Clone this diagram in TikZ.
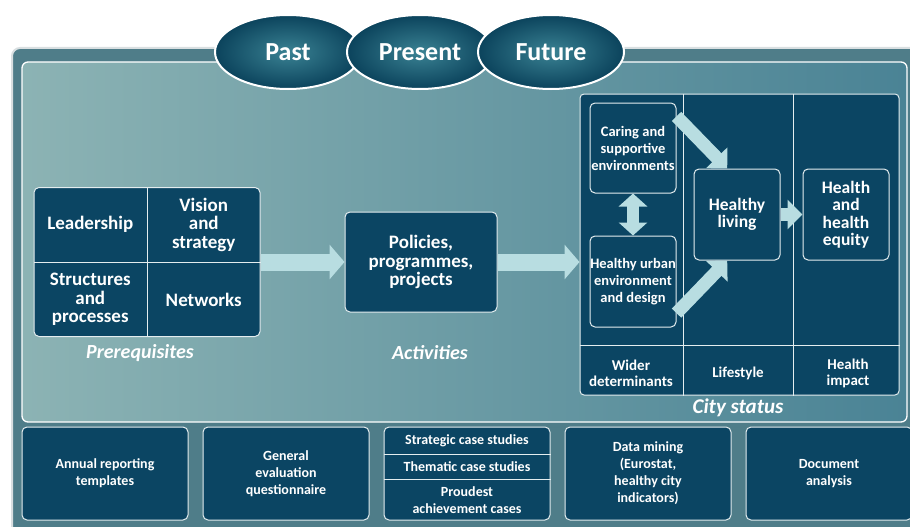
\documentclass[tikz,border=0pt]{standalone}
\usepackage{fontspec}
\setmainfont{Carlito}
\usetikzlibrary{arrows.meta,positioning,shapes.geometric,calc}
\definecolor{Navy}{HTML}{0B4563}
\definecolor{Frame}{HTML}{4F7D89}
\definecolor{PanelLight}{HTML}{8CB3B4}
\definecolor{PanelMid}{HTML}{6A9DA6}
\definecolor{PanelDark}{HTML}{4A8395}
\definecolor{Pale}{HTML}{B8DDE1}
\definecolor{OvalDark}{HTML}{0B435C}
\definecolor{OvalLight}{HTML}{3A8293}
\definecolor{Rim}{HTML}{E4EDEF}
\definecolor{Halo}{HTML}{D9DFE1}
\tikzset{
  blk/.style={rectangle,rounded corners=5pt,draw=Rim,line width=1pt,fill=Navy,text=white,font=\bfseries,align=center,inner sep=0pt},
  cell/.style={text=white,font=\fontsize{19}{18.5}\selectfont\bfseries,align=center,inner sep=0pt},
  sm/.style={font=\fontsize{14.5}{17}\selectfont\bfseries},
  md/.style={font=\fontsize{17.5}{17.5}\selectfont\bfseries},
  foot/.style={text=white,font=\fontsize{15}{16}\selectfont\bfseries,align=center,inner sep=0pt},
  lowbox/.style={blk,minimum width=166pt,minimum height=93pt,font=\fontsize{14}{17}\selectfont\bfseries},
  oval/.style={ellipse,draw=white,line width=2pt,inner color=OvalLight,outer color=OvalDark,minimum width=146pt,minimum height=74pt,text=white,font=\fontsize{26}{28}\selectfont\bfseries},
  ital/.style={font=\fontsize{20}{22}\selectfont\bfseries\itshape,text=white},
  rule/.style={draw=Rim,line width=1pt},
  arr/.style={draw=Pale,line width=17pt,-{Triangle[length=15pt,width=34pt]}},
  arrs/.style={draw=Pale,line width=13pt,-{Triangle[length=15pt,width=29pt]}},
  dbl/.style={draw=Pale,line width=12pt,{Triangle[length=13pt,width=28pt]}-{Triangle[length=13pt,width=28pt]}},
}
\begin{document}
\begin{tikzpicture}[x=1pt,y=-1pt]
\useasboundingbox (0,0) rectangle (910,527);
% Frame and shaded inner panel.
\filldraw[fill=Frame,draw=Halo,line width=2pt,rounded corners=8pt] (12,48) rectangle (925,540);
\shadedraw[left color=PanelLight,middle color=PanelMid,right color=PanelDark,draw=white,line width=1.3pt,rounded corners=6pt] (22,62) rectangle (907,422);
\node[oval] (past) at (288,52) {Past};
\node[oval] (pres) at (420,52) {Present};
\node[oval] (fut) at (551,52) {Future};
% Prerequisites grid.
\node[blk,minimum width=226pt,minimum height=149pt] (pre) at (147,262) {};
\draw[rule] (pre.north) -- (pre.south); \draw[rule] (pre.west) -- (pre.east);
\node[cell] (lead) at ($(pre.center)!.5!(pre.north west)$) {Leadership};
\node[cell] (vis) at ($(pre.center)!.5!(pre.north east)$) {Vision\\and\\strategy};
\node[cell] (str) at ($(pre.center)!.5!(pre.south west)$) {Structures\\and\\processes};
\node[cell] (net) at ($(pre.center)!.5!(pre.south east)$) {Networks};
\node[ital] (prel) at (140,353) {Prerequisites};
\node[blk,minimum width=152pt,minimum height=100pt,font=\fontsize{19}{18.5}\selectfont\bfseries] (pol) at (421,262) {Policies,\\programmes,\\projects};
\node[ital] (actl) at (430,353) {Activities};
% City status panel, three columns over a label row.
\node[rectangle,rounded corners=4pt,draw=Rim,line width=1pt,fill=Navy,minimum width=319pt,minimum height=301pt] (city) at (739.5,244.5) {};
\draw[rule] ($(city.north west)!.326!(city.north east)$) -- ($(city.south west)!.326!(city.south east)$);
\draw[rule] ($(city.north west)!.668!(city.north east)$) -- ($(city.south west)!.668!(city.south east)$);
\draw[rule] ($(city.north west)!.834!(city.south west)$) -- ($(city.north east)!.834!(city.south east)$);
\node[blk,sm,minimum width=86pt,minimum height=90pt] (car) at (633,148) {Caring and\\supportive\\environments};
\node[blk,sm,minimum width=86pt,minimum height=91pt] (urb) at (633,281.5) {Healthy urban\\environment\\and design};
\node[blk,md,minimum width=86pt,minimum height=91pt] (hl) at (737,214.5) {Healthy\\living};
\node[blk,md,minimum width=86pt,minimum height=91pt] (he) at (846,214.5) {Health\\and\\health\\equity};
\node[foot] (wd) at (631,373) {Wider\\determinants};
\node[foot] (ls) at (738,373) {Lifestyle};
\node[foot] (hi) at (848,373) {Health\\impact};
\node[ital,font=\fontsize{21}{23}\selectfont\bfseries\itshape] (cityl) at (738,408) {City status};
% Flow arrows.
\draw[arr] (pre.east) -- (pol.west);
\draw[arr] (pol.east) -- (pol.east -| city.west);
\draw[arrs] (car.36) -- (hl.102);
\draw[arrs] (urb.-36) -- (hl.-102);
\draw[dbl] (car.south) -- (urb.north);
\draw[arrs] (hl.east) -- (he.west);
% Evaluation sources.
\node[lowbox] (rep) at (105,473.5) {Annual reporting\\templates};
\node[lowbox,right=14pt of rep] (gen) {General\\evaluation\\questionnaire};
\node[lowbox,right=14pt of gen] (cas) {};
\node[lowbox,right=14pt of cas] (dat) {Data mining\\(Eurostat,\\healthy city\\indicators)};
\node[lowbox,right=14pt of dat] (doc) {Document\\analysis};
\draw[rule] ($(cas.north west)!.30!(cas.south west)$) -- ($(cas.north east)!.30!(cas.south east)$);
\draw[rule] ($(cas.north west)!.56!(cas.south west)$) -- ($(cas.north east)!.56!(cas.south east)$);
\node[cell,font=\fontsize{14}{17}\selectfont\bfseries] (strc) at ($(cas.north)!.15!(cas.south)$) {Strategic case studies};
\node[cell,font=\fontsize{14}{17}\selectfont\bfseries] (thc) at ($(cas.north)!.43!(cas.south)$) {Thematic case studies};
\node[cell,font=\fontsize{14}{17}\selectfont\bfseries] (prc) at ($(cas.north)!.78!(cas.south)$) {Proudest\\achievement cases};
\end{tikzpicture}
\end{document}
